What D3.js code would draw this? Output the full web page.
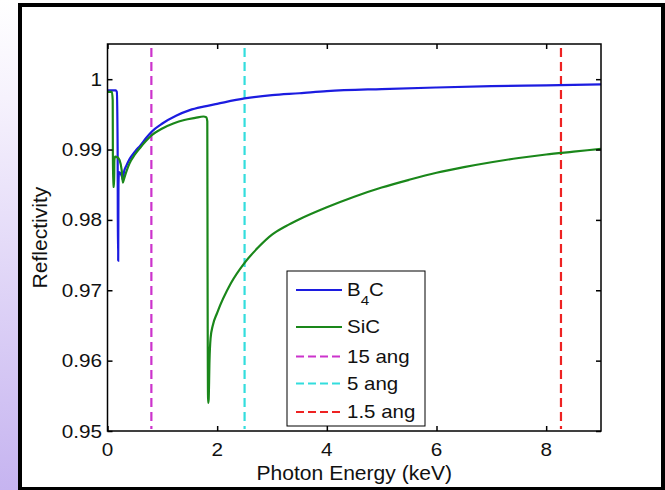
<!DOCTYPE html>
<html><head><meta charset="utf-8">
<script src="https://cdn.jsdelivr.net/npm/d3@7"></script>
<style>html,body{margin:0;padding:0;background:#fff;overflow:hidden}svg{display:block}text{font-family:"Liberation Sans",Arial,sans-serif;fill:#111}</style>
</head><body>
<svg id="c" width="665" height="490"></svg>
<script>
// ---- data ----
const xTicks = [0, 2, 4, 6, 8];
const yTicks = [0.95, 0.96, 0.97, 0.98, 0.99, 1];
const yTickLabels = ["0.95", "0.96", "0.97", "0.98", "0.99", "1"];
const b4cEnergy = [0, 0.05, 0.15, 0.17, 0.185, 0.19, 0.195, 0.2, 0.21, 0.25, 0.27, 0.285, 0.3, 0.35, 0.4, 0.5, 0.6, 0.7, 0.8, 1.0, 1.25, 1.5, 1.75, 2, 2.5, 3, 3.5, 4, 5, 6, 7, 8, 9];
const b4cRefl = [0.9984, 0.9984, 0.9984, 0.9982, 0.990, 0.9742, 0.9742, 0.985, 0.9868, 0.9864, 0.9860, 0.9856, 0.9868, 0.9878, 0.9886, 0.9897, 0.9906, 0.9916, 0.9925, 0.9937, 0.9948, 0.9956, 0.9961, 0.9965, 0.99726, 0.99773, 0.9980, 0.9983, 0.9986, 0.99882, 0.9990, 0.99912, 0.99925];
const sicEnergy = [0, 0.08, 0.095, 0.1, 0.12, 0.125, 0.14, 0.18, 0.22, 0.26, 0.28, 0.3, 0.35, 0.4, 0.5, 0.6, 0.7, 0.8, 1.0, 1.2, 1.4, 1.6, 1.75, 1.8, 1.82, 1.825, 1.835, 1.845, 1.86, 1.88, 1.92, 2.0, 2.25, 2.5, 2.75, 3, 3.25, 3.5, 4, 4.5, 5, 5.5, 6, 6.5, 7, 7.5, 8, 8.5, 9];
const sicRefl = [0.9982, 0.9982, 0.997, 0.9847, 0.9847, 0.9885, 0.9890, 0.9889, 0.9885, 0.9870, 0.9853, 0.9858, 0.9870, 0.9880, 0.9893, 0.9903, 0.9912, 0.9920, 0.9930, 0.9937, 0.9942, 0.9945, 0.9947, 0.9946, 0.9940, 0.9725, 0.9540, 0.9545, 0.9600, 0.9632, 0.9650, 0.9668, 0.9710, 0.9739, 0.9761, 0.9779, 0.9791, 0.9801, 0.9818, 0.9833, 0.9846, 0.9857, 0.9867, 0.9875, 0.9882, 0.9888, 0.9893, 0.9897, 0.9901];
const wavelengthNames = ["15 ang", "5 ang", "1.5 ang"];
const wavelengthEnergy = [0.8, 2.5, 8.27];
const seriesNames = ["B4C", "SiC"];

const svg = d3.select("#c");
const defs = svg.append("defs");
const grad = defs.append("linearGradient").attr("id","lav").attr("x1",0).attr("y1",0).attr("x2",0).attr("y2",1);
grad.append("stop").attr("offset","0").attr("stop-color","#ffffff");
grad.append("stop").attr("offset","0.2").attr("stop-color","#f6f2fd");
grad.append("stop").attr("offset","1").attr("stop-color","#c6b4f0");
svg.append("rect").attr("x",0).attr("y",0).attr("width",19).attr("height",490).attr("fill","url(#lav)");
// frame
svg.append("rect").attr("x",20).attr("y",5).attr("width",643).attr("height",484).attr("fill","#fff").attr("stroke","#000").attr("stroke-width",4);

const x = d3.scaleLinear().domain([0, 9]).range([107.5, 601]);
const y = d3.scaleLinear().domain([0.95, 1.005]).range([431, 44]);
const L = 107.5, R = 601, T = 44, B = 431;

const plot = svg.append("g");
plot.append("defs").append("clipPath").attr("id","clip").append("rect").attr("x",L).attr("y",T).attr("width",R-L).attr("height",B-T);

// dashed lines
const dashColors = ["#cc33cc", "#33dddd", "#ee2222"];
plot.selectAll("line.v").data(wavelengthEnergy).enter().append("line")
  .attr("x1", d=>x(d)).attr("x2", d=>x(d)).attr("y1", T+4).attr("y2", B-2)
  .attr("stroke", (d,i)=>dashColors[i]).attr("stroke-width",2.2).attr("stroke-dasharray","9,5");

const line = d3.line().x(d=>x(d[0])).y(d=>y(d[1])).curve(d3.curveMonotoneX);
const b4c = b4cEnergy.map((e,i)=>[e,b4cRefl[i]]);
const sic = sicEnergy.map((e,i)=>[e,sicRefl[i]]);
const seriesColors = ["#1c1ce0", "#1a871a"];
const cg = plot.append("g").attr("clip-path","url(#clip)");
cg.append("path").datum(b4c).attr("d",line).attr("fill","none").attr("stroke",seriesColors[0]).attr("stroke-width",2.2);
cg.append("path").datum(sic).attr("d",line).attr("fill","none").attr("stroke",seriesColors[1]).attr("stroke-width",2.2);

// box
plot.append("rect").attr("x",L).attr("y",T).attr("width",R-L).attr("height",B-T).attr("fill","none").attr("stroke","#000").attr("stroke-width",1.5);

// axes with inward ticks
const ax = svg.append("g");
ax.append("g").attr("transform",`translate(0,${B})`).call(d3.axisBottom(x).tickValues(xTicks).tickSize(-5).tickFormat(""))
  .call(g=>g.select(".domain").remove());
ax.append("g").attr("transform",`translate(0,${T})`).call(d3.axisTop(x).tickValues(xTicks).tickSize(-5).tickFormat(""))
  .call(g=>g.select(".domain").remove());
ax.append("g").attr("transform",`translate(${L},0)`).call(d3.axisLeft(y).tickValues(yTicks).tickSize(-5).tickFormat(""))
  .call(g=>g.select(".domain").remove());
ax.append("g").attr("transform",`translate(${R},0)`).call(d3.axisRight(y).tickValues(yTicks).tickSize(-5).tickFormat(""))
  .call(g=>g.select(".domain").remove());
ax.selectAll(".tick line").attr("stroke","#000").attr("stroke-width",1.5);

function stext(px, py, str, size, sx, anchor, rot) {
  const g = svg.append("g").attr("transform", `translate(${px},${py})` + (rot ? ` rotate(${rot})` : "") + ` scale(${sx},1)`);
  return g.append("text").attr("x",0).attr("y",0).attr("font-size",size).attr("text-anchor",anchor||"start").text(str);
}
// tick labels
yTicks.forEach((v,i)=> stext(102, y(v)+6.5, yTickLabels[i], 18, 1.15, "end"));
xTicks.forEach(v=> stext(x(v), 456, String(v), 18, 1.15, "middle"));
// axis titles
stext((L+R)/2, 480, "Photon Energy (keV)", 19.5, 1.08, "middle");
stext(47, (T+B)/2, "Reflectivity", 19.5, 1.08, "middle", -90);

// legend
const lg = svg.append("g");
lg.append("rect").attr("x",287).attr("y",271).attr("width",138).attr("height",155).attr("fill","#fff").attr("stroke","#000").attr("stroke-width",1);
const rowsY = [290, 327, 356.5, 383.5, 412];
const legColors = seriesColors.concat(dashColors);
const legNames = seriesNames.concat(wavelengthNames);
legNames.forEach((n,i)=>{
  lg.append("line").attr("x1",296).attr("x2",342).attr("y1",rowsY[i]).attr("y2",rowsY[i])
    .attr("stroke",legColors[i]).attr("stroke-width",2).attr("stroke-dasharray", i>=2 ? "8,4" : null);
  if (n === "B4C") {
    const g = svg.append("g").attr("transform",`translate(347,${rowsY[i]+6})scale(1.17,1)`);
    const t = g.append("text").attr("font-size",17.5);
    t.append("tspan").text("B");
    t.append("tspan").attr("font-size",13).attr("dy",9).text("4");
    t.append("tspan").attr("dy",-9).text("C");
  } else {
    stext(347, rowsY[i]+6, n, 17.5, 1.17, "start");
  }
});
</script>
</body></html>
